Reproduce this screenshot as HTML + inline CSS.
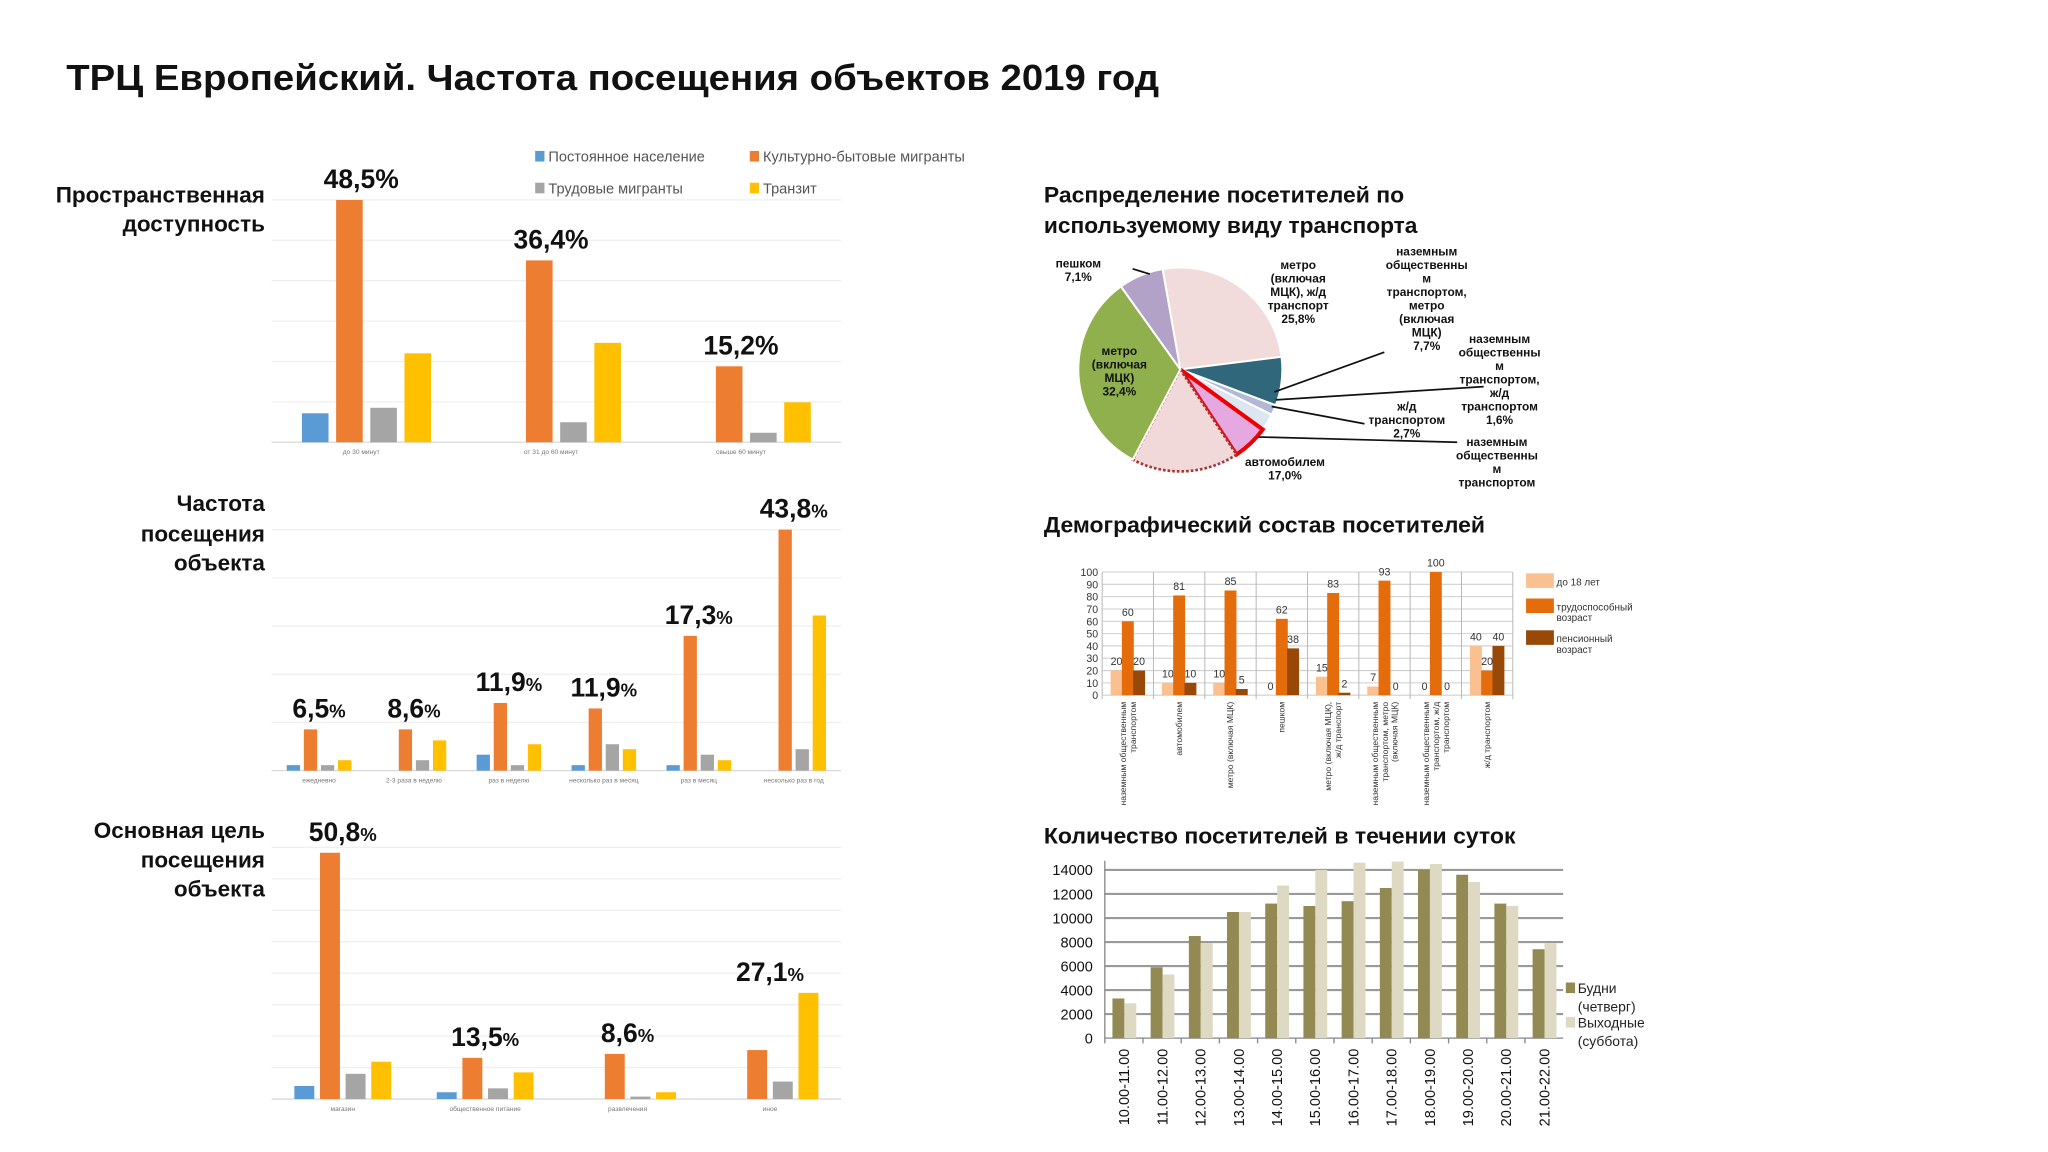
<!DOCTYPE html>
<html><head><meta charset="utf-8">
<style>
html,body{margin:0;padding:0;background:#fff;}
svg{display:block;font-family:"Liberation Sans","Noto Sans CJK SC",sans-serif;}
</style></head>
<body>
<svg id="root" width="2048" height="1152" viewBox="0 0 1546 870" preserveAspectRatio="none" xmlns="http://www.w3.org/2000/svg">
<rect x="0" y="0" width="1546" height="870" fill="#fff"/>
<text x="50" y="68" font-size="27" font-weight="bold" fill="#111" textLength="825" lengthAdjust="spacingAndGlyphs">ТРЦ Европейский. Частота посещения объектов 2019 год</text>

<g font-size="11" fill="#555">
<rect x="404" y="114" width="7" height="8" fill="#5b9bd5"/><text x="414" y="122">Постоянное население</text>
<rect x="566" y="114" width="7" height="8" fill="#ed7d31"/><text x="576" y="122">Культурно-бытовые мигранты</text>
<rect x="404" y="138" width="7" height="8" fill="#a5a5a5"/><text x="414" y="146">Трудовые мигранты</text>
<rect x="566" y="138" width="7" height="8" fill="#ffc000"/><text x="576" y="146">Транзит</text>
</g>

<g font-size="17" font-weight="bold" fill="#111" text-anchor="end">
<text x="200" y="153">Пространственная</text><text x="200" y="175">доступность</text>
<text x="200" y="386">Частота</text><text x="200" y="409">посещения</text><text x="200" y="431">объекта</text>
<text x="200" y="633">Основная цель</text><text x="200" y="655">посещения</text><text x="200" y="677">объекта</text>
</g>

<g font-size="17" font-weight="bold" fill="#111">
<text x="788" y="153" textLength="272" lengthAdjust="spacingAndGlyphs">Распределение посетителей по</text>
<text x="788" y="176" textLength="282" lengthAdjust="spacingAndGlyphs">используемому виду транспорта</text>
<text x="788" y="402" textLength="333" lengthAdjust="spacingAndGlyphs">Демографический состав посетителей</text>
<text x="788" y="637" textLength="356" lengthAdjust="spacingAndGlyphs">Количество посетителей в течении суток</text>
</g>
<g id="charts"></g>
</svg>
<script>
// ---- Chart 1: spatial accessibility
const c1Cats=['до 30 минут','от 31 до 60 минут','свыше 60 минут'];
const c1Blue=[5.8,0,0];
const c1Orange=[48.5,36.4,15.2];
const c1Gray=[6.9,4.0,1.9];
const c1Yellow=[17.8,19.9,8.0];
const c1Labels=['48,5','36,4','15,2'];
// ---- Chart 2: visit frequency
const c2Cats=['ежедневно','2-3 раза в неделю','раз в неделю','несколько раз в месяц','раз в месяц','несколько раз в год'];
const c2Blue=[1.0,0,2.9,1.0,1.0,0];
const c2Orange=[7.5,7.5,12.3,11.3,24.5,43.8];
const c2Gray=[1.0,1.9,1.0,4.8,2.9,3.9];
const c2Yellow=[1.9,5.5,4.8,3.9,1.9,28.2];
const c2Labels=['6,5','8,6','11,9','11,9','17,3','43,8'];
// ---- Chart 3: main purpose
const c3Cats=['магазин','общественное питание','развлечения','иное'];
const c3Blue=[2.7,1.4,0,0];
const c3Orange=[50.8,8.5,9.3,10.1];
const c3Gray=[5.2,2.2,0.5,3.6];
const c3Yellow=[7.7,5.5,1.4,21.9];
const c3Labels=['50,8','13,5','8,6','27,1'];
// ---- Pie: transport
const pieLabels=['метро/ж/д','наземным+метро','наземным+ж/д','ж/д','наземным','автомобилем','метро','пешком'];
const pieValues=[25.8,7.7,1.6,2.7,5.7,17.0,32.4,7.1];
// ---- Demographics
const demCats=['наземным общественным транспортом','автомобилем','метро (включая МЦК)','пешком','метро (включая МЦК), ж/д транспорт','наземным общественным транспортом, метро (включая МЦК)','наземным общественным транспортом, ж/д транспортом','ж/д транспортом'];
const demYoung=[20,10,10,0,15,7,0,40];
const demWork=[60,81,85,62,83,93,100,20];
const demPension=[20,10,5,38,2,0,0,40];
const demTicks=[0,10,20,30,40,50,60,70,80,90,100];
// ---- Daily visitors
const dayCats=['10.00-11.00','11.00-12.00','12.00-13.00','13.00-14.00','14.00-15.00','15.00-16.00','16.00-17.00','17.00-18.00','18.00-19.00','19.00-20.00','20.00-21.00','21.00-22.00'];
const dayWeek=[3300,5900,8500,10500,11200,11000,11400,12500,14000,13600,11200,7400];
const dayWeekend=[2900,5300,7900,10500,12700,14000,14600,14700,14500,13000,11000,7900];
const dayTicks=[0,2000,4000,6000,8000,10000,12000,14000];

const NS='http://www.w3.org/2000/svg';
const root=document.getElementById('charts');
function mk(tag,attrs,parent){const e=document.createElementNS(NS,tag);for(const k in attrs)e.setAttribute(k,attrs[k]);(parent||root).appendChild(e);return e;}

function groupChart(name,cats,series,labels,o){
  const g=mk('g',{});
  
  
  const y=v=>o.base-(v/o.max)*(o.base-o.top);
  for(let i=0;i<=o.grid;i++){
    const gy=o.base-(o.base-o.gridTop)*i/o.grid;
    const l=mk('line',{x1:o.xL,x2:o.xR,y1:gy,y2:gy,stroke:i===0?'#d9d9d9':'#efefef','stroke-width':1},g);
    
    
  }
  const band=(o.xR-o.xL)/cats.length, bw=band*0.14, step=band*0.18;
  const cols=['#5b9bd5','#ed7d31','#a5a5a5','#ffc000'];
  cats.forEach((c,i)=>{
    const cx=o.xL+(i+0.5)*band;
    let maxTop=o.base;
    series.forEach((s,k)=>{
      const v=s[i]; if(v<=0)return;
      const bx=cx+(k-1.5)*step-bw/2, top=y(v);
      maxTop=Math.min(maxTop,top);
      const r=mk('rect',{x:bx,y:top,width:bw,height:o.base-top,fill:cols[k]},g);
      
      
    });
    const t=mk('text',{x:cx+o.lblOff,y:o.base+9,'font-size':5,'text-anchor':'middle',fill:'#777'},g);
    t.textContent=c;
    
    
    const lb=mk('text',{x:cx+o.lblOff,y:maxTop-9,'font-size':20,'font-weight':'bold','text-anchor':'middle',fill:'#111'},g);
    
    
    lb.appendChild(document.createTextNode(labels[i]));
    const ps=mk('tspan',{'font-size':o.pct},lb); ps.textContent='%';
  });
}
groupChart('chart-spatial-accessibility',c1Cats,[c1Blue,c1Orange,c1Gray,c1Yellow],c1Labels,{xL:205,xR:635,base:334,top:151,gridTop:151,grid:6,max:48.5,lblOff:-4,pct:20});
groupChart('chart-visit-frequency',c2Cats,[c2Blue,c2Orange,c2Gray,c2Yellow],c2Labels,{xL:205,xR:635,base:582,top:400,gridTop:400,grid:5,max:43.8,lblOff:0,pct:14});
groupChart('chart-visit-purpose',c3Cats,[c3Blue,c3Orange,c3Gray,c3Yellow],c3Labels,{xL:205,xR:635,base:830,top:644,gridTop:640,grid:8,max:50.8,lblOff:0,pct:14});

// ---- pie
(function(){
  const g=mk('g',{});
  
  
  const cx=891,cy=279,r=77;
  const cols=['#f2dcdb','#31677a','#b3b8d6','#dce6f0','#e6a8e0','#f2d9d9','#8fb04d','#b3a2c7'];
  const strokes=['#fff','#fff','#fff','#fff','#e00','#a33','#fff','#fff'];
  const sw=[1.5,1.5,1.5,1.5,3,2,1.5,1.5];
  const total=pieValues.reduce((a,b)=>a+b,0);
  let a=-10*Math.PI/180;
  pieValues.forEach((v,i)=>{
    const da=v/total*2*Math.PI, a2=a+da;
    const p=(ang,rr)=>[cx+rr*Math.sin(ang),cy-rr*Math.cos(ang)];
    const [x1,y1]=p(a,r),[x2,y2]=p(a2,r);
    const s=mk('path',{d:`M${cx},${cy}L${x1},${y1}A${r},${r} 0 ${da>Math.PI?1:0} 1 ${x2},${y2}Z`,fill:cols[i],stroke:strokes[i],'stroke-width':sw[i],'stroke-dasharray':i===5?'2,1.5':'none'},g);
    
    
    a=a2;
  });
  const lines=[[855,203,868,207],[962,296,1045,266],[963,302,1120,292],[960,307,1030,320],[950,330,1100,334]];
  lines.forEach(l=>{const e=mk('line',{x1:l[0],y1:l[1],x2:l[2],y2:l[3],stroke:'#111','stroke-width':1.3},g);
    
    });
  const labs=[[814,202,['пешком','7,1%']],[980,203,['метро','(включая','МЦК), ж/д','транспорт','25,8%']],[1077,193,['наземным','общественны','м','транспортом,','метро','(включая','МЦК)','7,7%']],[1132,259,['наземным','общественны','м','транспортом,','ж/д','транспортом','1,6%']],[1062,310,['ж/д','транспортом','2,7%']],[1130,337,['наземным','общественны','м','транспортом']],[970,352,['автомобилем','17,0%']],[845,268,['метро','(включая','МЦК)','32,4%']]];
  labs.forEach(L=>{
    const t=mk('text',{x:L[0],y:L[1],'font-size':9,'font-weight':'bold','text-anchor':'middle',fill:'#111'},g);
    
    
    L[2].forEach((s,j)=>{const ts=mk('tspan',{x:L[0],dy:j?10.2:0},t);ts.textContent=s;});
  });
})();

// ---- demographics
(function(){
  const g=mk('g',{});
  
  
  const xL=832,xR=1142,base=525,top=432;
  const y=v=>base-v/100*(base-top);
  demTicks.forEach(v=>{
    const l=mk('line',{x1:xL,x2:xR,y1:y(v),y2:y(v),stroke:'#cfcfcf','stroke-width':0.8},g);
    
    
    const t=mk('text',{x:xL-3,y:y(v)+3,'font-size':8,'text-anchor':'end',fill:'#333'},g);
    t.textContent=v;
    
    
  });
  const band=(xR-xL)/demCats.length;
  for(let i=0;i<=demCats.length;i++){const l=mk('line',{x1:xL+i*band,x2:xL+i*band,y1:top,y2:base+3,stroke:'#bbb','stroke-width':0.8},g);
    
    }
  const cols=['#fac090','#e46c0a','#984807'];
  const ser=[demYoung,demWork,demPension];
  demCats.forEach((c,i)=>{
    const cx=xL+(i+0.5)*band;
    ser.forEach((s,k)=>{
      const bx=cx+(k-1)*8.5-4.5;
      if(s[i]>0){const r=mk('rect',{x:bx,y:y(s[i]),width:9,height:base-y(s[i]),fill:cols[k]},g);
        
        }
      const t=mk('text',{x:bx+4.5,y:y(s[i])-4,'font-size':8,'text-anchor':'middle',fill:'#333'},g);
      t.textContent=s[i];
      
      
    });
    const words=c.split(' ');let lines=[],cur='';
    words.forEach(w=>{if((cur+' '+w).trim().length>22){lines.push(cur);cur=w;}else cur=(cur+' '+w).trim();});lines.push(cur);
    const t=mk('text',{transform:`translate(${cx-(lines.length-1)*3.5+2},530) rotate(-90)`,'font-size':6.5,'text-anchor':'end',fill:'#333'},g);
    
    
    lines.forEach((s,j)=>{const ts=mk('tspan',{x:0,dy:j?7.5:0},t);ts.textContent=s;});
  });
  const leg=[[433,['до 18 лет']],[452,['трудоспособный','возраст']],[476,['пенсионный','возраст']]];
  leg.forEach((L,k)=>{
    const r=mk('rect',{x:1152,y:L[0],width:21,height:11,fill:cols[k]},g);
    
    
    const t=mk('text',{x:1175,y:L[0]+9,'font-size':7.5,fill:'#333'},g);
    
    
    L[1].forEach((s,j)=>{const ts=mk('tspan',{x:1175,dy:j?8:0},t);ts.textContent=s;});
  });
})();

// ---- daily visitors
(function(){
  const g=mk('g',{});
  
  
  const xL=834,xR=1180,base=784,top14=657;
  const y=v=>base-v/14000*(base-top14);
  dayTicks.forEach(v=>{
    const l=mk('line',{x1:xL,x2:xR,y1:y(v),y2:y(v),stroke:'#999','stroke-width':v?1.6:1.2},g);
    
    
    const t=mk('text',{x:xL-9,y:y(v)+4,'font-size':11,'text-anchor':'end',fill:'#111'},g);
    t.textContent=v;
    
    
  });
  const ax=mk('line',{x1:xL,x2:xL,y1:650,y2:base,stroke:'#888','stroke-width':1},g);
  
  
  const band=(xR-xL)/dayCats.length;
  dayCats.forEach((c,i)=>{
    const x0=xL+i*band;
    const tk=mk('line',{x1:x0,x2:x0,y1:base,y2:base+4,stroke:'#888'},g);
    
    
    const r1=mk('rect',{x:x0+band*0.2,y:y(dayWeek[i]),width:9,height:base-y(dayWeek[i]),fill:'#938953'},g);
    
    
    const r2=mk('rect',{x:x0+band*0.2+9,y:y(dayWeekend[i]),width:9,height:base-y(dayWeekend[i]),fill:'#ddd9c3'},g);
    
    
    const t=mk('text',{transform:`translate(${x0+band/2+4},792) rotate(-90)`,'font-size':11,'text-anchor':'end',fill:'#111'},g);
    t.textContent=c;
    
    
  });
  const leg=[[742,'#938953',['Будни','(четверг)']],[768,'#ddd9c3',['Выходные','(суббота)']]];
  leg.forEach(L=>{
    const r=mk('rect',{x:1182,y:L[0],width:7,height:8,fill:L[1]},g);
    
    
    const t=mk('text',{x:1191,y:L[0]+8,'font-size':10.5,fill:'#222'},g);
    
    
    L[2].forEach((s,j)=>{const ts=mk('tspan',{x:1191,dy:j?14:0},t);ts.textContent=s;});
  });
})();
</script>
</body></html>
